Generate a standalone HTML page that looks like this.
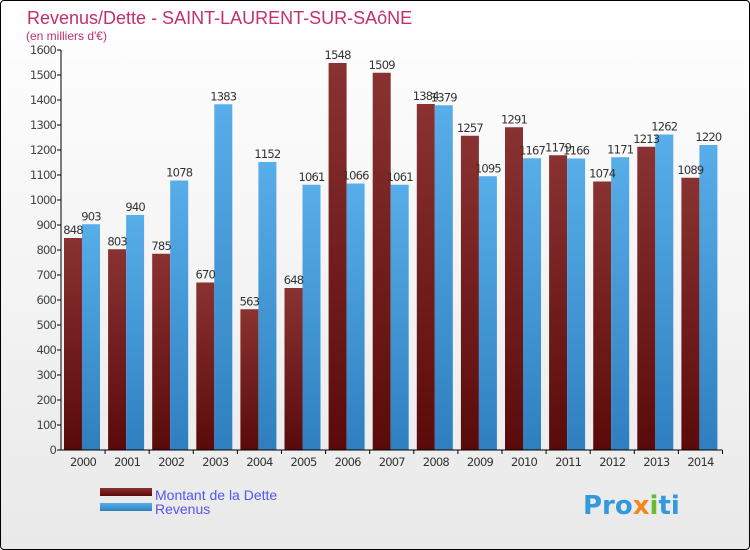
<!DOCTYPE html>
<html><head><meta charset="utf-8"><style>
body{margin:0}
#wrap{width:748px;height:548px;border:1px solid #000;border-radius:4px;overflow:hidden;background:linear-gradient(#fff,#e9e9e9);position:relative;font-family:"DejaVu Sans","Liberation Sans",sans-serif}
</style></head><body>
<div id="wrap">
<svg id="c" width="750" height="550" style="position:absolute;left:-1px;top:-1px">
<defs>
<linearGradient id="gd" x1="0" x2="0" y1="0" y2="1"><stop offset="0" stop-color="#8a3232"/><stop offset="1" stop-color="#5a0a0a"/></linearGradient>
<linearGradient id="gr" x1="0" x2="0" y1="0" y2="1"><stop offset="0" stop-color="#58aee8"/><stop offset="1" stop-color="#2f7fc0"/></linearGradient>
</defs>
<text x="27" y="24" font-size="18" fill="#c0306a" font-family="Liberation Sans, sans-serif">Revenus/Dette - SAINT-LAURENT-SUR-SAôNE</text>
<text x="26" y="40" font-size="12" fill="#c0306a" font-family="Liberation Sans, sans-serif">(en milliers d'€)</text>
<g id="g"></g>
<rect x="100" y="488" width="52" height="8" fill="url(#gd)"/>
<rect x="100" y="503" width="52" height="8" fill="url(#gr)"/>
<text x="155" y="500" font-size="14" fill="#5555ee" font-family="Liberation Sans, sans-serif">Montant de la Dette</text>
<text x="155" y="514" font-size="14" fill="#5555ee" font-family="Liberation Sans, sans-serif">Revenus</text>
<text x="583" y="514" font-size="26" font-weight="bold" fill="#3399dd">Pro<tspan fill="#ee8822">x</tspan><tspan fill="#66bb33">i</tspan>ti</text>
</svg></div>
<script>
const years=["2000","2001","2002","2003","2004","2005","2006","2007","2008","2009","2010","2011","2012","2013","2014"];
const dette=[848,803,785,670,563,648,1548,1509,1384,1257,1291,1179,1074,1213,1089];
const revenus=[903,940,1078,1383,1152,1061,1066,1061,1379,1095,1167,1166,1171,1262,1220];
const ticks=[0,100,200,300,400,500,600,700,800,900,1000,1100,1200,1300,1400,1500,1600];
const NS="http://www.w3.org/2000/svg",g=document.getElementById('g');
const X0=61,GW=44.1,Y0=450,K=400/1600;
const y=v=>Y0-v*K, x=i=>X0+i*GW;
function mk(t,a){const e=document.createElementNS(NS,t);for(const k in a)e.setAttribute(k,a[k]);g.appendChild(e);return e;}
ticks.forEach(t=>{
 const l=mk('line',{x1:57,x2:61,y1:y(t),y2:y(t),stroke:'#000'});
 
 
 const tx=mk('text',{x:56,y:y(t)+4,'text-anchor':'end','font-size':11.5,fill:'#444','letter-spacing':'-0.8'});
 tx.textContent=t;
 
 
});
years.forEach((yr,i)=>{
 const bx=x(i)+3;
 const r1=mk('rect',{x:bx,y:y(dette[i]),width:18,height:dette[i]*K,fill:'url(#gd)'});
 
 
 const r2=mk('rect',{x:bx+18,y:y(revenus[i]),width:18,height:revenus[i]*K,fill:'url(#gr)'});
 
 
 const t1=mk('text',{x:bx+9,y:y(dette[i])-4,'text-anchor':'middle','font-size':11.5,fill:'#333','letter-spacing':'-0.8'});
 t1.textContent=dette[i];
 
 
 const t2=mk('text',{x:bx+27,y:y(revenus[i])-4,'text-anchor':'middle','font-size':11.5,fill:'#333','letter-spacing':'-0.8'});
 t2.textContent=revenus[i];
 
 
 const tk=mk('line',{x1:x(i+1),x2:x(i+1),y1:450,y2:454,stroke:'#000'});
 
 
 const xl=mk('text',{x:x(i)+GW/2,y:466,'text-anchor':'middle','font-size':11.5,fill:'#333','letter-spacing':'-0.8'});
 xl.textContent=yr;
 
 
});
const ax=mk('line',{x1:61,x2:61,y1:50,y2:450,stroke:'#000'});


const bx=mk('line',{x1:61,x2:x(15),y1:450,y2:450,stroke:'#000'});


</script>
</body></html>
